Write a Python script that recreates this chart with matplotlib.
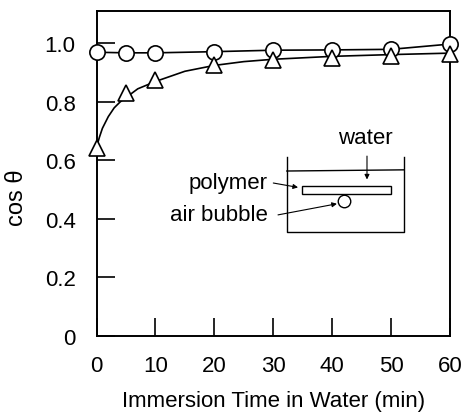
import matplotlib.pyplot as plt

plt.rcParams['font.family'] = ['Liberation Sans', 'DejaVu Sans']

# data
time_min = [0, 5, 10, 20, 30, 40, 50, 60]
cos_circle = [0.970, 0.968, 0.968, 0.972, 0.977, 0.978, 0.980, 0.998]
cos_triangle = [0.643, 0.830, 0.875, 0.925, 0.945, 0.952, 0.957, 0.965]

# fitted curve through the triangles
curve_x = [0, 0.5, 1, 2, 3, 4, 5, 7, 10, 15, 20, 25, 30, 40, 50, 60]
curve_y = [0.645, 0.68, 0.71, 0.75, 0.78, 0.80, 0.815, 0.845, 0.87, 0.905,
           0.925, 0.938, 0.946, 0.956, 0.962, 0.967]

x_ticks = [0, 10, 20, 30, 40, 50, 60]
y_ticks = [0, 0.2, 0.4, 0.6, 0.8, 1.0]
y_tick_labels = ['0', '0.2', '0.4', '0.6', '0.8', '1.0']

fig = plt.figure(figsize=(4.64, 4.14), dpi=100)
ax = fig.add_axes([0.208, 0.186, 0.762, 0.785])

ax.plot(curve_x, curve_y, color='black', lw=1.2)
ax.plot(time_min, cos_circle, color='black', lw=1.2, marker='o', ms=11,
        mfc='white', mec='black', mew=1.2, clip_on=False, zorder=3)
ax.plot(time_min, cos_triangle, ls='none', marker='^', ms=11,
        mfc='white', mec='black', mew=1.2, clip_on=False, zorder=4)

ax.set_xlim(0, 60)
ax.set_ylim(0, 1.111)
ax.set_xticks(x_ticks)
ax.set_yticks(y_ticks)
ax.set_yticklabels(y_tick_labels)
ax.tick_params(direction='in', length=13, width=1.2, labelsize=16, pad=15,
               colors='black')
ax.tick_params(axis='x', pad=14)
for s in ax.spines.values():
    s.set_linewidth(1.4)

ax.set_xlabel('Immersion Time in Water (min)', fontsize=16, labelpad=10)
fig.text(0.037, 0.522, 'cos θ', rotation=90, fontsize=17,
         ha='center', va='center')

# inset sketch: container of water, polymer film, air bubble
k = 'black'
ax.plot([32.3, 32.3, 52.2, 52.2], [0.612, 0.356, 0.356, 0.612], color=k, lw=1.0)
ax.plot([32.3, 52.2], [0.564, 0.568], color=k, lw=1.0)
ax.add_patch(plt.Rectangle((34.9, 0.485), 15.1, 0.028, fill=False, ec=k, lw=1.0))
ax.plot([42.0], [0.462], marker='o', ms=9, mfc='white', mec=k, mew=1.0)

ap = dict(arrowstyle='-|>', color=k, lw=0.8, mutation_scale=7, shrinkA=0, shrinkB=0)
ax.text(45.6, 0.680, 'water', fontsize=16, ha='center', va='center')
ax.annotate('', xy=(45.9, 0.535), xytext=(45.9, 0.615), arrowprops=ap)
ax.text(29.1, 0.526, 'polymer', fontsize=16, ha='right', va='center')
ax.annotate('', xy=(34.2, 0.508), xytext=(30.0, 0.523), arrowprops=ap)
ax.text(29.1, 0.417, 'air bubble', fontsize=16, ha='right', va='center')
ax.annotate('', xy=(40.8, 0.452), xytext=(30.8, 0.414), arrowprops=ap)

fig.savefig('out.png', dpi=100)
